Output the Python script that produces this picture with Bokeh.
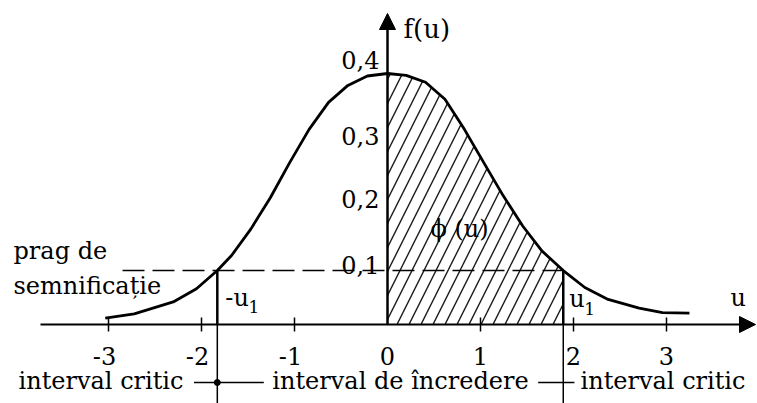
import math
from bokeh.plotting import figure
from bokeh.models import Range1d, Arrow, NormalHead
from bokeh.core.properties import value
from bokeh.embed import file_html
from bokeh.resources import INLINE

# Standard normal density f(u), sampled by hand along the drawn curve
curve_u = [-3.035, -2.723, -2.304, -2.054, -1.83, -1.677, -1.470, -1.260, -1.052, -0.843,
           -0.634, -0.426, -0.217, 0.0, 0.201, 0.409, 0.618, 0.827, 1.035, 1.245,
           1.454, 1.662, 1.89, 2.122, 2.372, 2.706, 2.957, 3.247]
curve_f = [0.010, 0.017, 0.036, 0.057, 0.086, 0.110, 0.152, 0.202, 0.258, 0.311,
           0.354, 0.381, 0.396, 0.400, 0.397, 0.386, 0.359, 0.311, 0.258, 0.205,
           0.157, 0.117, 0.086, 0.059, 0.040, 0.026, 0.019, 0.018]

# critical values -u1 / u1 and the significance threshold
u1_neg = -1.83
u1_pos = 1.89
prag = 0.086

x_ticks = [-3, -2, -1, 0, 1, 2, 3]
x_tick_labels = ["-3", "-2", "-1", "0", "1", "2", "3"]
y_ticks = [0.1, 0.2, 0.3, 0.4]
y_tick_labels = ["0,1", "0,2", "0,3", "0,4"]

# ---- layout helpers (pixel positions -> data units) ----
PX_U = 93.0      # pixels per unit on u
PX_F = 627.5     # pixels per unit on f
ORIGIN_X, ORIGIN_Y = 387, 324


def ux(px):
    return (px - ORIGIN_X) / PX_U


def fy(py):
    return (ORIGIN_Y - py) / PX_F


X0, X1 = ux(0), ux(757)
Y0, Y1 = fy(403), fy(0)

FONT = value("DejaVu Serif")
FS = "24px"
TXT = dict(text_font=FONT, text_font_size=FS, text_color="black", text_baseline="middle")

p = figure(width=757, height=403, x_range=Range1d(X0, X1), y_range=Range1d(Y0, Y1),
           output_backend="svg", toolbar_location=None, min_border=0)
p.min_border_left = p.min_border_right = p.min_border_top = p.min_border_bottom = 0
p.axis.visible = False
p.grid.visible = False
p.outline_line_color = None
p.background_fill_color = "white"
p.border_fill_color = "white"

# hatched area phi(u) between 0 and u1
hx = [0.0] + [u for u in curve_u if 0.0 <= u <= u1_pos] + [u1_pos]
hy = [0.0] + [f for u, f in zip(curve_u, curve_f) if 0.0 <= u <= u1_pos] + [0.0]
p.patch(hx, hy, fill_alpha=0, line_alpha=0, hatch_pattern="/", hatch_color="black",
        hatch_scale=24, hatch_weight=1.4, hatch_alpha=0.9)

# threshold line
p.line([ux(122), u1_pos], [prag, prag], line_color="black", line_width=1.5, line_dash="22 8")

# critical verticals: above the axis and down into the caption row
for uc in (u1_neg, u1_pos):
    p.line([uc, uc], [prag, 0], line_color="black", line_width=2.5)
    p.line([uc, uc], [0, Y0], line_color="black", line_width=1.5)

# density curve
p.line(curve_u, curve_f, line_color="black", line_width=2.8, line_join="round")

# axes with arrow heads
p.add_layout(Arrow(end=NormalHead(size=16, fill_color="black", line_color="black"),
                   x_start=ux(40), y_start=0, x_end=ux(755), y_end=0,
                   line_color="black", line_width=2))
p.add_layout(Arrow(end=NormalHead(size=16, fill_color="black", line_color="black"),
                   x_start=0, y_start=0, x_end=0, y_end=fy(13),
                   line_color="black", line_width=2.5))

# tick marks on u axis
tick_u = [t for t in x_ticks if t != 0]
p.scatter(tick_u, [0] * len(tick_u), marker="dash", angle=math.pi / 2, size=14,
          line_color="black", line_width=1.5)

# tick labels on u axis (digit centred on the tick)
x_off = [-4 if t.startswith("-") else 0 for t in x_tick_labels]
p.text(x_ticks, [fy(355)] * len(x_ticks), text=x_tick_labels, x_offset=x_off,
       text_align="center", **TXT)

# tick labels on f axis
y_off = [3, 0, 0, -14]
p.text([0] * len(y_ticks), y_ticks, text=y_tick_labels, x_offset=-8, y_offset=y_off,
       text_align="right", **TXT)

# axis names
p.text([ux(403)], [fy(28)], text=["f(u)"], text_align="left",
       text_font=FONT, text_font_size="26px", text_color="black", text_baseline="middle")
p.text([ux(730)], [fy(297)], text=["u"], text_align="left", **TXT)

# annotations inside the plot
p.text([ux(13)] * 2, [fy(250), fy(285)], text=["prag de", "semnificație"],
       text_align="left", **TXT)
p.text([u1_neg + 0.086, u1_pos + 0.065], [fy(297), fy(298)], text=["-u", "u"],
       text_align="left", **TXT)
p.text([u1_neg + 0.335, u1_pos + 0.225], [fy(306), fy(308)], text=["1", "1"],
       text_align="left", text_font=FONT, text_font_size="17px", text_color="black",
       text_baseline="middle")
p.text([ux(430)], [fy(228)], text=["ϕ (u)"], text_align="left", **TXT)

# interval captions under the axis
row_y = fy(380)
conn_y = fy(382)
p.text([ux(18)], [row_y], text=["interval critic"], text_align="left", **TXT)
p.text([ux(400)], [row_y], text=["interval de încredere"], text_align="center", **TXT)
p.text([ux(580)], [row_y], text=["interval critic"], text_align="left", **TXT)
p.line([u1_neg - 0.25, u1_neg + 0.5], [conn_y, conn_y], line_color="black", line_width=1.5)
p.line([u1_pos - 0.27, u1_pos + 0.12], [conn_y, conn_y], line_color="black", line_width=1.5)
p.scatter([u1_neg], [conn_y], marker="circle", size=6, fill_color="black", line_color="black")

open("out.html", "w").write(file_html(p, INLINE))
